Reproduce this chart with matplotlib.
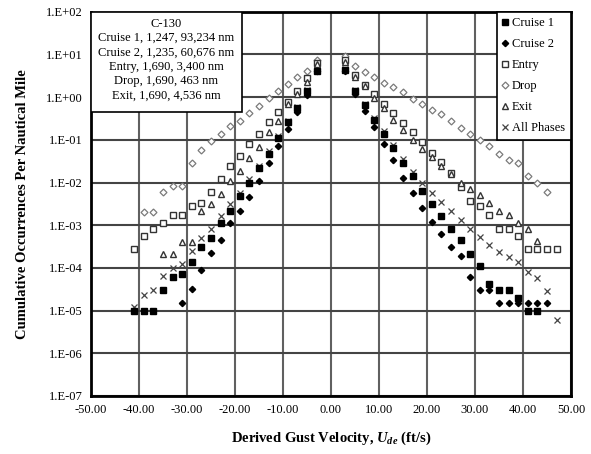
import numpy as np
import matplotlib
matplotlib.use("Agg")
import matplotlib.pyplot as plt
from matplotlib.patches import Rectangle

plt.rcParams['font.family'] = ['Liberation Serif', 'DejaVu Serif']
plt.rcParams['mathtext.fontset'] = 'custom'
plt.rcParams['mathtext.it'] = 'Liberation Serif:italic:bold'
plt.rcParams['mathtext.rm'] = 'Liberation Serif:bold'

# Datos
x_c1 = [-41, -39, -37, -35, -33, -31, -29, -27, -25, -23, -21, -19, -17, -15, -13, -11, -9, -7, -5, -3,
        3, 5, 7, 9, 11, 13, 15, 17, 19, 21, 23, 25, 27, 29, 31, 33, 35, 37, 39, 41, 43]
y_c1 = [1.0e-05, 1.0e-05, 1.0e-05, 3.0e-05, 6.0e-05, 7.0e-05, 1.4e-04, 3.0e-04, 5.0e-04, 1.1e-03,
        2.1e-03, 4.8e-03, 1.0e-02, 2.2e-02, 4.7e-02, 0.11, 0.26, 0.55, 1.4, 4.2,
        4.4, 1.4, 0.64, 0.29, 0.14, 0.064, 0.029, 0.014, 6.3e-03, 3.2e-03, 1.6e-03, 8.3e-04,
        4.4e-04, 2.1e-04, 1.1e-04, 4.1e-05, 3.0e-05, 3.0e-05, 2.0e-05, 1.0e-05, 1.0e-05]

x_c2 = [-31, -29, -27, -25, -23, -21, -19, -17, -15, -13, -11, -9, -7, -5, -3,
        3, 5, 7, 9, 11, 13, 15, 17, 19, 21, 23, 25, 27, 29, 31, 33, 35, 37, 39, 41, 43, 45]
y_c2 = [1.5e-05, 3.2e-05, 9.0e-05, 2.2e-04, 4.6e-04, 1.1e-03, 2.1e-03, 4.5e-03, 1.1e-02, 2.9e-02,
        7.2e-02, 0.18, 0.45, 1.1, 4.0,
        4.2, 1.2, 0.48, 0.20, 0.081, 0.034, 0.013, 5.7e-03, 2.5e-03, 1.2e-03, 6.2e-04, 3.1e-04,
        1.9e-04, 6.0e-05, 3.1e-05, 3.1e-05, 1.5e-05, 1.5e-05, 1.5e-05, 1.5e-05, 1.5e-05, 1.5e-05]

x_en = [-41, -39, -37, -35, -33, -31, -29, -27, -25, -23, -21, -19, -17, -15, -13, -11, -9, -7, -5, -3,
        3, 5, 7, 9, 11, 13, 15, 17, 19, 21, 23, 25, 27, 29, 31, 33, 35, 37, 39, 41, 43, 45, 47]
y_en = [2.7e-04, 5.5e-04, 8.3e-04, 1.1e-03, 1.7e-03, 1.7e-03, 2.8e-03, 3.4e-03, 6.0e-03, 1.2e-02,
        2.4e-02, 4.2e-02, 7.9e-02, 0.14, 0.26, 0.45, 0.79, 1.4, 2.8, 6.3,
        7.4, 3.3, 1.9, 1.2, 0.70, 0.42, 0.25, 0.15, 0.087, 0.049, 0.031, 0.017, 7.8e-03,
        3.7e-03, 2.8e-03, 1.7e-03, 8.3e-04, 8.3e-04, 5.5e-04, 2.7e-04, 2.7e-04, 2.7e-04, 2.7e-04]

x_dr = [-39, -37, -35, -33, -31, -29, -27, -25, -23, -21, -19, -17, -15, -13, -11, -9, -7, -5, -3,
        3, 5, 7, 9, 11, 13, 15, 17, 19, 21, 23, 25, 27, 29, 31, 33, 35, 37, 39, 41, 43, 45]
y_dr = [2.0e-03, 2.0e-03, 6.0e-03, 8.3e-03, 8.3e-03, 2.8e-02, 5.9e-02, 9.2e-02, 0.14, 0.21, 0.28,
        0.42, 0.62, 0.98, 1.4, 2.0, 2.9, 4.2, 7.4,
        9.0, 5.4, 3.8, 2.9, 2.2, 1.7, 1.29, 0.90, 0.69, 0.50, 0.40, 0.27, 0.19, 0.14, 0.10,
        0.07, 0.047, 0.033, 0.028, 0.014, 0.010, 6.0e-03]

x_ex = [-35, -33, -31, -29, -27, -25, -23, -21, -19, -17, -15, -13, -11, -9, -7, -5, -3,
        3, 5, 7, 9, 11, 13, 15, 17, 19, 21, 23, 25, 27, 29, 31, 33, 35, 37, 39, 41, 43]
y_ex = [2.1e-04, 2.1e-04, 4.1e-04, 4.1e-04, 2.1e-03, 3.2e-03, 5.5e-03, 1.1e-02, 1.9e-02, 3.7e-02,
        6.7e-02, 0.15, 0.28, 0.70, 1.2, 2.3, 6.0,
        6.5, 3.0, 1.8, 0.95, 0.55, 0.29, 0.17, 0.097, 0.061, 0.039, 0.024, 0.016, 9.8e-03,
        7.2e-03, 5.0e-03, 3.4e-03, 2.1e-03, 1.7e-03, 1.1e-03, 8.3e-04, 4.3e-04]

x_all = [-41, -39, -37, -35, -33, -31, -29, -27, -25, -23, -21, -19, -17, -15, -13, -11, -9, -7, -5, -3,
         3, 5, 7, 9, 11, 13, 15, 17, 19, 21, 23, 25, 27, 29, 31, 33, 35, 37, 39, 41, 43, 45, 47]
y_all = [1.2e-05, 2.3e-05, 3.0e-05, 6.4e-05, 1.0e-04, 1.2e-04, 2.5e-04, 4.9e-04, 8.3e-04, 1.6e-03,
         3.1e-03, 5.7e-03, 1.2e-02, 2.5e-02, 5.5e-02, 0.12, 0.28, 0.60, 1.5, 4.5,
         4.6, 1.5, 0.70, 0.32, 0.16, 0.075, 0.035, 0.018, 9.8e-03, 5.7e-03, 3.5e-03, 2.1e-03,
         1.3e-03, 8.0e-04, 5.3e-04, 3.5e-04, 2.3e-04, 1.8e-04, 1.4e-04, 8.1e-05, 5.9e-05,
         2.9e-05, 6.0e-06]

box_lines = ['C-130',
             'Cruise 1, 1,247, 93,234 nm',
             'Cruise 2, 1,235, 60,676 nm',
             'Entry, 1,690, 3,400 nm',
             'Drop, 1,690, 463 nm',
             'Exit, 1,690, 4,536 nm']

xticks = [-50, -40, -30, -20, -10, 0, 10, 20, 30, 40, 50]
yticks = [1e-7, 1e-6, 1e-5, 1e-4, 1e-3, 1e-2, 1e-1, 1e0, 1e1, 1e2]
ytick_labels = ['1.E-07', '1.E-06', '1.E-05', '1.E-04', '1.E-03', '1.E-02', '1.E-01',
                '1.E+00', '1.E+01', '1.E+02']

fig = plt.figure(figsize=(5.91, 4.54), dpi=100)
ax = fig.add_axes([0.154, 0.128, 0.812, 0.846])

ax.plot(x_dr, y_dr, ls='none', marker='D', ms=3.5, mfc='white', mec='#7a7a7a', mew=0.9, label='Drop')
ax.plot(x_en, y_en, ls='none', marker='s', ms=5, mfc='white', mec='#333333', mew=1.0, label='Entry')
ax.plot(x_ex, y_ex, ls='none', marker='^', ms=4.5, mfc='white', mec='#333333', mew=1.0, label='Exit')
ax.plot(x_all, y_all, ls='none', marker='x', ms=4.5, mec='#444444', mew=0.9, label='All Phases')
ax.plot(x_c2, y_c2, ls='none', marker='D', ms=3.2, mfc='black', mec='black', label='Cruise 2')
ax.plot(x_c1, y_c1, ls='none', marker='s', ms=4.8, mfc='black', mec='black', label='Cruise 1')

ax.set_yscale('log')
ax.set_xlim(-50, 50)
ax.set_ylim(1e-7, 1e2)
ax.set_xticks(xticks)
ax.set_xticklabels(['%.2f' % v for v in xticks], fontsize=9)
ax.set_yticks(yticks)
ax.set_yticklabels(ytick_labels, fontsize=9)
ax.tick_params(which='both', length=0, pad=6)

ax.grid(True, which='minor', axis='y', color='#bdbdbd', lw=1.4)
ax.grid(True, which='major', axis='y', color='#444444', lw=1.5)
ax.grid(True, which='major', axis='x', color='#606060', lw=1.5)
ax.set_axisbelow(True)
for s in ax.spines.values():
    s.set_linewidth(2)

ax.set_xlabel(r'Derived Gust Velocity, $U_{de}$ (ft/s)', fontsize=10.5, fontweight='bold', labelpad=10)
ax.set_ylabel('Cumulative Occurrences Per Nautical Mile', fontsize=10.5, fontweight='bold', labelpad=12)

# Cuadro de texto
ax.add_patch(Rectangle((0, 0.74), 0.315, 0.26, transform=ax.transAxes,
                       facecolor='white', edgecolor='black', lw=1.2, zorder=5))
ax.text(0.157, 0.985, '\n'.join(box_lines), transform=ax.transAxes, ha='center', va='top',
        fontsize=9, linespacing=1.27, zorder=6)

handles, labels = ax.get_legend_handles_labels()
order = ['Cruise 1', 'Cruise 2', 'Entry', 'Drop', 'Exit', 'All Phases']
hmap = dict(zip(labels, handles))
leg = ax.legend([hmap[k] for k in order], order, loc='upper right', fontsize=9,
                frameon=True, fancybox=False, edgecolor='black', framealpha=1,
                handlelength=0.5, handletextpad=0.3, labelspacing=0.72,
                borderaxespad=0, borderpad=0.45)
leg.get_frame().set_linewidth(1.2)

fig.savefig('out.png', dpi=100)
